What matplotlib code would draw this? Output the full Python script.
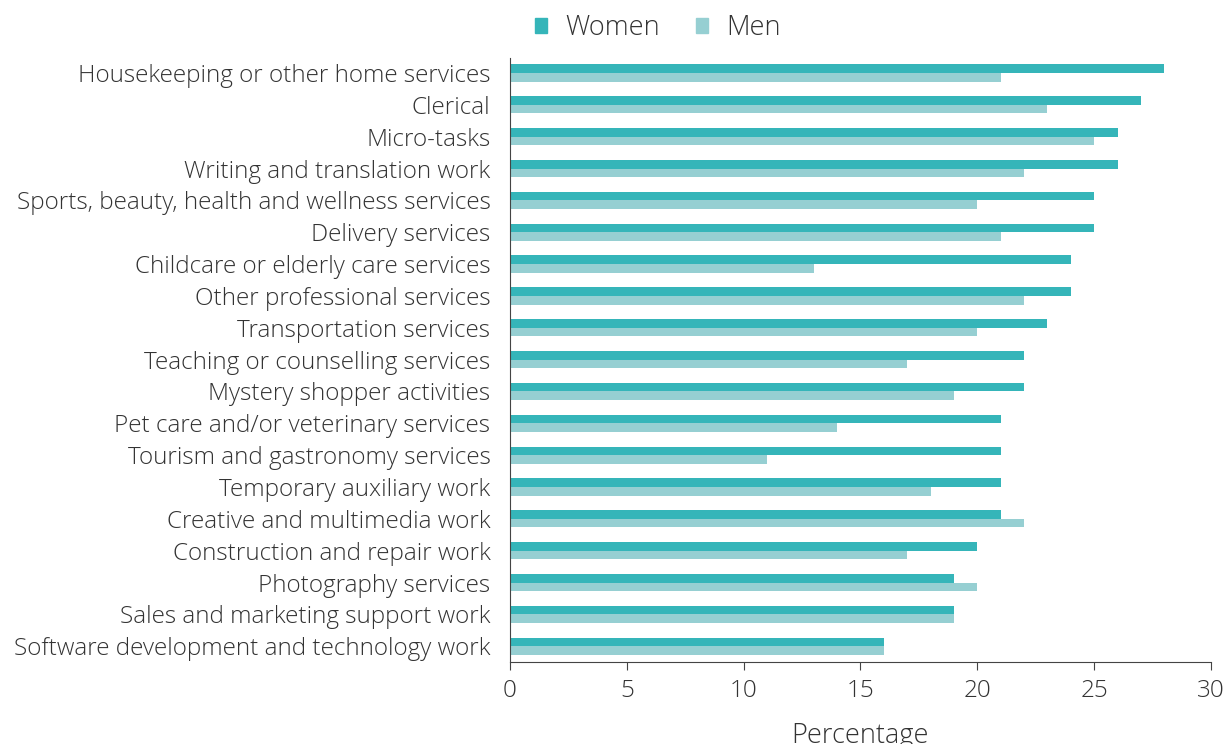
import matplotlib
matplotlib.use('Agg')
import matplotlib.pyplot as plt
import numpy as np
from matplotlib.patches import Patch

categories = ['Housekeeping or other home services', 'Clerical', 'Micro-tasks',
              'Writing and translation work', 'Sports, beauty, health and wellness services',
              'Delivery services', 'Childcare or elderly care services',
              'Other professional services', 'Transportation services',
              'Teaching or counselling services', 'Mystery shopper activities',
              'Pet care and/or veterinary services', 'Tourism and gastronomy services',
              'Temporary auxiliary work', 'Creative and multimedia work',
              'Construction and repair work', 'Photography services',
              'Sales and marketing support work', 'Software development and technology work']
women = [28, 27, 26, 26, 25, 25, 24, 24, 23, 22, 22, 21, 21, 21, 21, 20, 19, 19, 16]
men = [21, 23, 25, 22, 20, 21, 13, 22, 20, 17, 19, 14, 11, 18, 22, 17, 20, 19, 16]

plt.rcParams['font.family'] = ['Open Sans', 'DejaVu Sans']
text_col = '#333333'
c_women = '#35b5b9'
c_men = '#96cfd2'

fig = plt.figure(figsize=(12.27, 7.44), dpi=100)
ax = fig.add_axes([0.4156, 0.110, 0.5714, 0.812])

y = np.arange(len(categories))
h = 0.27
ax.barh(y - h / 2, women, height=h, color=c_women, label='Women')
ax.barh(y + h / 2, men, height=h, color=c_men, label='Men')

ax.set_ylim(len(categories) - 0.5, -0.47)
ax.set_xlim(0, 30)
ax.set_yticks(y)
ax.set_yticklabels(categories, fontsize=17.5, color=text_col, fontweight='light')
ax.set_xticks([0, 5, 10, 15, 20, 25, 30])
ax.tick_params(axis='x', labelsize=17.5, labelcolor=text_col, length=6, color='#444444', pad=6)
ax.tick_params(axis='y', length=0, pad=14)
for lab in ax.get_xticklabels():
    lab.set_fontweight('light')
ax.set_xlabel('Percentage', fontsize=19.5, color=text_col, fontweight='light')
ax.xaxis.set_label_coords(0.5, -0.099)

for s in ['top', 'right']:
    ax.spines[s].set_visible(False)
ax.spines['left'].set_color('#444444')
ax.spines['bottom'].set_color('#444444')

handles = [Patch(color=c_women, label='Women'), Patch(color=c_men, label='Men')]
leg = fig.legend(handles=handles, loc='center', bbox_to_anchor=(0.536, 0.962), ncol=2,
                 frameon=False, fontsize=19.5, handlelength=0.45, handleheight=0.45,
                 columnspacing=1.35, handletextpad=0.65)
for t in leg.get_texts():
    t.set_color(text_col)
    t.set_fontweight('light')

fig.savefig('out.png', dpi=100)
